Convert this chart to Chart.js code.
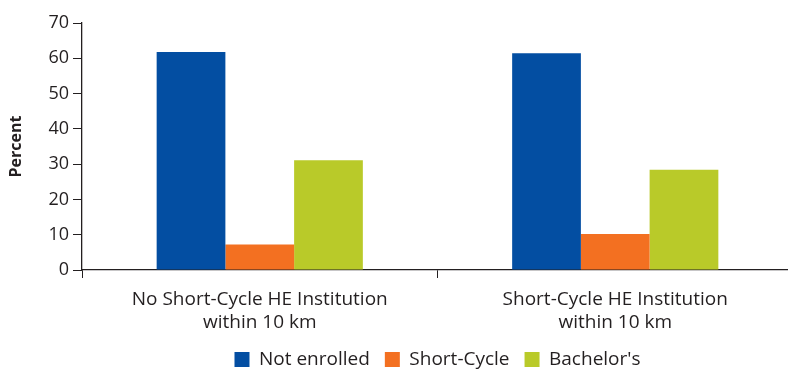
<!DOCTYPE html>
<html>
<head>
<meta charset="utf-8">
<script src="https://cdn.jsdelivr.net/npm/chart.js@4"></script>
<style>
  html, body { margin: 0; padding: 0; background: #fff; overflow: hidden; }
  #wrap { width: 793px; height: 379px; }
</style>
</head>
<body>
<div id="wrap"><canvas id="enrolChart"></canvas></div>
<script>
// enrolment outcome by distance to nearest short-cycle institution
var categories = [
  ['No Short-Cycle HE Institution', 'within 10 km'],
  ['Short-Cycle HE Institution', 'within 10 km']
];
var notEnrolled = [61.8, 61.4];
var shortCycle = [7.2, 10.2];
var bachelors = [31.1, 28.4];
var yTicks = [0, 10, 20, 30, 40, 50, 60, 70];

var axisColor = '#231f20';
var font = 'Open Sans';

// keep the legend centred under the plot area rather than the whole canvas
var legendUnderPlot = {
  id: 'legendUnderPlot',
  afterLayout: function (chart) {
    chart.legend.left = chart.chartArea.left;
    chart.legend.right = chart.chartArea.right;
  }
};

var ctx = document.getElementById('enrolChart').getContext('2d');
new Chart(ctx, {
  type: 'bar',
  data: {
    labels: categories,
    datasets: [
      { label: 'Not enrolled', data: notEnrolled, backgroundColor: '#034ea2' },
      { label: 'Short-Cycle', data: shortCycle, backgroundColor: '#f37021' },
      { label: "Bachelor's", data: bachelors, backgroundColor: '#b9ca29' }
    ]
  },
  plugins: [legendUnderPlot],
  options: {
    responsive: true,
    maintainAspectRatio: false,
    animation: false,
    layout: { padding: { top: 23, right: 0, left: 0, bottom: 0 } },
    datasets: {
      bar: { barPercentage: 1, categoryPercentage: 0.58 }
    },
    plugins: {
      tooltip: { enabled: false },
      legend: {
        position: 'bottom',
        labels: {
          boxWidth: 15,
          boxHeight: 15,
          padding: 15,
          color: axisColor,
          font: { family: font, size: 19 }
        }
      }
    },
    scales: {
      x: {
        grid: { display: true, drawOnChartArea: false, offset: true, tickLength: 8, color: axisColor },
        border: { color: axisColor, width: 1.3 },
        ticks: {
          color: axisColor,
          font: { family: font, size: 19, lineHeight: 1.2 },
          padding: 10,
          maxRotation: 0
        },
        afterFit: function (scale) { scale.height = 65; }
      },
      y: {
        min: 0,
        max: 70,
        afterBuildTicks: function (scale) {
          scale.ticks = yTicks.map(function (v) { return { value: v }; });
        },
        grid: { display: true, drawOnChartArea: false, tickLength: 9, color: axisColor },
        border: { color: axisColor, width: 1.3 },
        ticks: { color: axisColor, font: { family: font, size: 18 }, padding: 4 },
        title: {
          display: true,
          text: 'Percent',
          color: axisColor,
          font: { family: font, size: 16, weight: 'bold' },
          padding: { top: 7, bottom: 0 }
        },
        afterFit: function (scale) { scale.width = 82; }
      }
    }
  }
});
</script>
</body>
</html>
